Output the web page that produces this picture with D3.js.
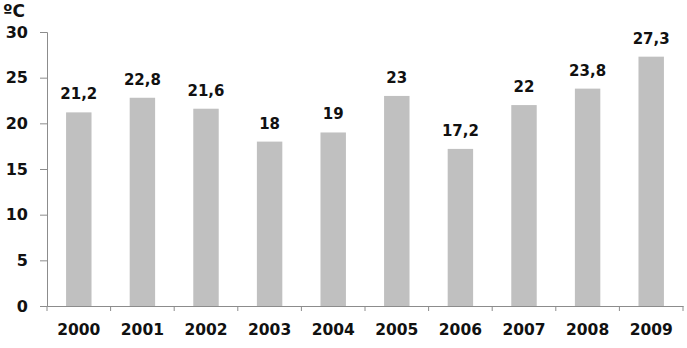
<!DOCTYPE html>
<html>
<head>
<meta charset="utf-8">
<script src="https://cdn.jsdelivr.net/npm/d3@7"></script>
<style>
  body { margin: 0; background: #fff; }
  text { font-family: "DejaVu Sans", Verdana, sans-serif; font-weight: bold; fill: #111; }
</style>
</head>
<body>
<div id="chart"></div>
<script>
// data
var years = ["2000", "2001", "2002", "2003", "2004", "2005", "2006", "2007", "2008", "2009"];
var temps = [21.2, 22.8, 21.6, 18, 19, 23, 17.2, 22, 23.8, 27.3];
var yTicks = [0, 5, 10, 15, 20, 25, 30];

var width = 687, height = 348;
var margin = {top: 32, right: 4, bottom: 42, left: 47};

var svg = d3.select("#chart").append("svg")
    .attr("width", width)
    .attr("height", height);

var x = d3.scaleBand()
    .domain(years)
    .range([margin.left, width - margin.right])
    .paddingInner(0.6)
    .paddingOuter(0.3);

var y = d3.scaleLinear()
    .domain([0, 30])
    .range([height - margin.bottom, margin.top]);

// bars
svg.selectAll(".bar")
    .data(temps)
    .enter().append("rect")
    .attr("class", "bar")
    .attr("x", function(d, i) { return x(years[i]); })
    .attr("y", function(d) { return y(d); })
    .attr("width", x.bandwidth())
    .attr("height", function(d) { return y(0) - y(d); })
    .style("fill", "#c0c0c0");

// value labels
svg.selectAll(".val")
    .data(temps)
    .enter().append("text")
    .attr("class", "val")
    .attr("x", function(d, i) { return x(years[i]) + x.bandwidth() / 2; })
    .attr("y", function(d) { return y(d) - 13; })
    .attr("text-anchor", "middle")
    .style("font-size", "15px")
    .text(function(d) { return String(d).replace(".", ","); });

// y axis
var yAxis = svg.append("g")
    .attr("transform", "translate(" + margin.left + ",0)")
    .call(d3.axisLeft(y).tickValues(yTicks).tickSize(7).tickPadding(12));
yAxis.select(".domain").attr("stroke", "#8c8c8c");
yAxis.selectAll(".tick line").attr("stroke", "#8c8c8c");
yAxis.selectAll(".tick text")
    .style("font-size", "16px")
    .attr("fill", "#111");

// x axis (category boundaries as ticks)
var xAxis = svg.append("g")
    .attr("transform", "translate(0," + y(0) + ")")
    .call(d3.axisBottom(x).tickSize(0).tickPadding(14));
xAxis.select(".domain").attr("stroke", "#8c8c8c");
xAxis.selectAll(".tick text")
    .style("font-size", "15.5px")
    .attr("dy", "0.95em")
    .attr("fill", "#111");

var step = x.step();
var bounds = d3.range(years.length + 1).map(function(i) {
  return x(years[0]) - x.paddingOuter() * step + i * step;
});
svg.selectAll(".sep")
    .data(bounds)
    .enter().append("line")
    .attr("class", "sep")
    .attr("x1", function(d) { return d; })
    .attr("x2", function(d) { return d; })
    .attr("y1", y(0))
    .attr("y2", y(0) + 5)
    .attr("stroke", "#8c8c8c");

// unit label
svg.append("text")
    .attr("x", 3)
    .attr("y", 17)
    .style("font-size", "17px")
    .text("ºC");
</script>
</body>
</html>
